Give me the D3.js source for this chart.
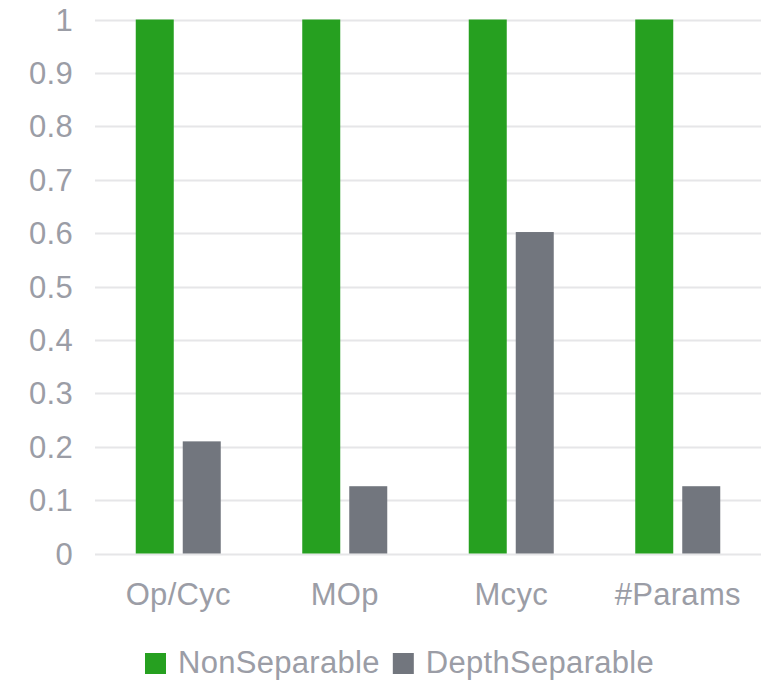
<!DOCTYPE html>
<html>
<head>
<meta charset="utf-8">
<script src="https://cdn.jsdelivr.net/npm/d3@7"></script>
<style>
  html, body { margin: 0; padding: 0; background: #ffffff; }
  svg { display: block; }
  text { font-family: "Liberation Sans", Arial, Helvetica, sans-serif; fill: #9b9da6; letter-spacing: 0.3px; }
</style>
</head>
<body>
<svg id="chart" width="769" height="680"></svg>
<script>
// Relative cost of the two convolution variants
const categories = ["Op/Cyc", "MOp", "Mcyc", "#Params"];
const seriesNames = ["NonSeparable", "DepthSeparable"];
const nonSeparable = [1, 1, 1, 1];
const depthSeparable = [0.21, 0.126, 0.602, 0.126];
const yTicks = [0, 0.1, 0.2, 0.3, 0.4, 0.5, 0.6, 0.7, 0.8, 0.9, 1];
const colors = ["#26a020", "#72767e"];

const svg = d3.select("#chart");
const plot = { left: 95, right: 761, top: 19.5, bottom: 553.5 };
const fontSize = "31px";

const y = d3.scaleLinear().domain([0, 1]).range([plot.bottom, plot.top]);
const x0 = d3.scaleBand().domain(categories).range([plot.left, plot.right]).padding(0);
const groupW = 85;
const x1 = d3.scaleBand().domain(seriesNames).range([0, groupW]).paddingInner(9 / 47).paddingOuter(0);

// gridlines
svg.append("g").selectAll("line").data(yTicks).join("line")
  .attr("x1", plot.left).attr("x2", plot.right)
  .attr("y1", d => Math.round(y(d)) + 0.5).attr("y2", d => Math.round(y(d)) + 0.5)
  .attr("stroke", "#e6e6e8").attr("stroke-width", 2);

// y tick labels
svg.append("g").selectAll("text").data(yTicks).join("text")
  .attr("x", 73).attr("y", d => y(d) + 11)
  .attr("text-anchor", "end")
  .style("font-size", fontSize)
  .text(d => d3.format("~g")(d));

// bars
const data = categories.map((c, i) => ({ cat: c, vals: [nonSeparable[i], depthSeparable[i]] }));
const groups = svg.append("g").selectAll("g").data(data).join("g")
  .attr("transform", d => `translate(${x0(d.cat) + (x0.bandwidth() - groupW) / 2},0)`);
groups.selectAll("rect").data(d => d.vals.map((v, j) => ({ s: seriesNames[j], v, j }))).join("rect")
  .attr("x", d => x1(d.s)).attr("width", x1.bandwidth())
  .attr("y", d => y(d.v)).attr("height", d => y(0) - y(d.v))
  .attr("fill", d => colors[d.j]);

// x labels
svg.append("g").selectAll("text").data(categories).join("text")
  .attr("x", d => x0(d) + x0.bandwidth() / 2).attr("y", 605)
  .attr("text-anchor", "middle")
  .style("font-size", fontSize)
  .text(d => d);

// legend
const legend = svg.append("g");
let lx = 145;
seriesNames.forEach((name, i) => {
  legend.append("rect").attr("x", lx).attr("y", 653).attr("width", 21).attr("height", 21).attr("fill", colors[i]);
  const t = legend.append("text").attr("x", lx + 33).attr("y", 673)
    .style("font-size", fontSize).text(name);
  lx = lx + 33 + t.node().getComputedTextLength() + 13;
});
</script>
</body>
</html>
